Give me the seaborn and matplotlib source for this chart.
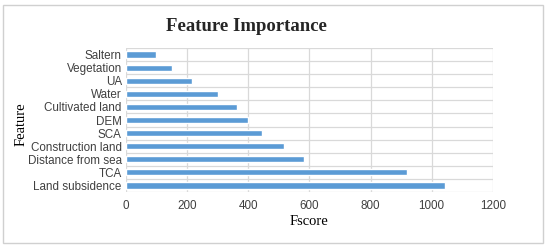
import pandas as pd
import matplotlib
matplotlib.use('Agg')
import matplotlib.pyplot as plt
import seaborn as sns
from matplotlib.patches import Rectangle

# Feature importance values
features = ['Saltern', 'Vegetation', 'UA', 'Water', 'Cultivated land', 'DEM',
            'SCA', 'Construction land', 'Distance from sea', 'TCA', 'Land subsidence']
fscore = [98, 150, 215, 302, 363, 398, 446, 518, 582, 920, 1043]
xticks = [0, 200, 400, 600, 800, 1000, 1200]

df = pd.DataFrame({'Feature': features, 'Fscore': fscore})

sns.set_style('white')
plt.rcParams['font.family'] = ['Liberation Sans', 'DejaVu Sans']

fig = plt.figure(figsize=(5.5, 2.49), dpi=100)
ax = fig.add_axes([0.229, 0.229, 0.667, 0.578])

sns.barplot(data=df, x='Fscore', y='Feature', order=features, color='#5B9BD5',
            width=0.48, saturation=1, ax=ax)

grid_c = '#D9D9D9'
ax.set_xlim(0, 1200)
ax.set_ylim(len(features) - 0.5, -0.5)
ax.set_xticks(xticks)
for x in xticks:
    ax.axvline(x, color=grid_c, lw=0.9, zorder=0)
for i in range(len(features) + 1):
    ax.axhline(i - 0.5, color=grid_c, lw=0.9, zorder=0)
for s in ax.spines.values():
    s.set_visible(False)
ax.tick_params(axis='y', length=0, labelsize=8.4, colors='#404040', pad=3)
ax.tick_params(axis='x', length=0, labelsize=8.4, colors='#404040', pad=6)

ax.set_xlabel('Fscore', family='Liberation Serif', fontsize=10.5, color='black')
ax.set_ylabel('Feature', family='Liberation Serif', fontsize=10.5, color='black')
ax.xaxis.set_label_coords(0.5, -0.16)
ax.yaxis.set_label_coords(-0.267, 0.47)
fig.text(0.448, 0.895, 'Feature Importance', family='Liberation Serif', fontweight='bold',
         fontsize=13.5, ha='center', va='center')

fig.patches.append(Rectangle((3 / 550, 6 / 249), 540 / 550, 238 / 249, transform=fig.transFigure,
                             fill=False, edgecolor='#D0D0D0', lw=1))

fig.savefig('out.png', dpi=100)
